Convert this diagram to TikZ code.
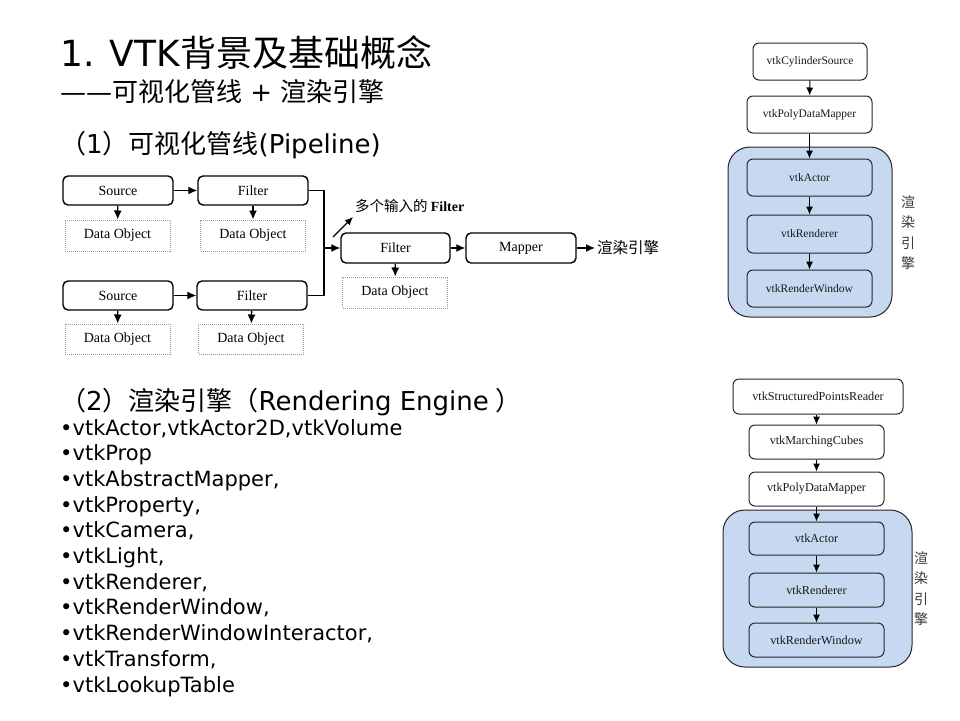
\documentclass[tikz,border=0pt]{standalone}
\usepackage{fontspec}
\setmainfont{DejaVu Sans}
\newfontfamily\cjk{Noto Sans CJK SC}
\newfontfamily\tms{Liberation Serif}
\usetikzlibrary{arrows.meta}
\definecolor{engblue}{HTML}{C6D9F1}
\definecolor{sidegray}{HTML}{3A3A3A}
\begin{document}
\begin{tikzpicture}[x=1pt,y=-1pt,
  pbox/.style={draw=black,line width=1.4pt,rounded corners=5pt,fill=white,inner sep=0pt,
     minimum width=110pt,minimum height=29pt,font=\tms\fontsize{14}{14}\selectfont},
  dbox/.style={draw=gray!80,line width=1pt,dash pattern=on 1pt off 1pt,inner sep=0pt,
     minimum width=105pt,minimum height=31pt,font=\tms\fontsize{14}{14}\selectfont},
  vbox/.style={draw=black!85,line width=1pt,rounded corners=6pt,inner sep=0pt,
     minimum height=37pt,font=\tms\fontsize{11.5}{11.5}\selectfont,text=black!90},
  wbox/.style={draw=black!85,line width=1pt,rounded corners=6pt,inner sep=0pt,
     minimum height=34pt,font=\tms\fontsize{12.2}{12.2}\selectfont,text=black!90},
  cont/.style={draw=black!85,line width=1pt,fill=engblue,rounded corners=22pt},
  arr/.style={-{Latex[length=9pt,width=8pt]},line width=1.3pt},
  varr/.style={-{Latex[length=8pt,width=7pt]},line width=1pt},
  ln/.style={line width=1.3pt},
  side/.style={font=\cjk\fontsize{14}{14}\selectfont,text=sidegray,inner sep=0pt}
]
\useasboundingbox (0,0) rectangle (960,720);
\fill[white] (0,0) rectangle (960,720);

% ---------- headings ----------
\node[anchor=base west,inner sep=0pt] (title) at (60,66)
  {\fontsize{36}{36}\selectfont 1. VTK{\cjk\fontsize{36}{36}\selectfont 背景及基础概念}};
\node[anchor=base west,inner sep=0pt] (subtitle) at (60,101)
  {\fontsize{26}{26}\selectfont ——{\cjk 可视化管线} + {\cjk 渲染引擎}};
\node[anchor=base west,inner sep=0pt] (h1) at (60,153)
  {\fontsize{26}{26}\selectfont {\cjk （}1{\cjk ）可视化管线}(Pipeline)};
\node[anchor=base west,inner sep=0pt] (h2) at (60,410)
  {\fontsize{26}{26}\selectfont {\cjk （}2{\cjk ）渲染引擎（}Rendering Engine\hspace{7pt}{\cjk ）}};

% ---------- list ----------
\foreach \t [count=\i from 0] in {vtkActor{,}vtkActor2D{,}vtkVolume,vtkProp,vtkAbstractMapper{,},
  vtkProperty{,},vtkCamera{,},vtkLight{,},vtkRenderer{,},vtkRenderWindow{,},
  vtkRenderWindowInteractor{,},vtkTransform{,},vtkLookupTable}
  \node[anchor=base west,inner sep=0pt,font=\fontsize{21}{21}\selectfont] (li\i) at (60,{435+25.7*\i}) {•\t};

% ---------- pipeline ----------
\node[pbox] (s1) at (118,190.5) {Source};
\node[pbox] (f1) at (253,190.5) {Filter};
\node[dbox] (d1) at (117.5,235.5) {Data Object};
\node[dbox] (d2) at (253,235.5) {Data Object};
\node[pbox] (s2) at (118,295.5) {Source};
\node[pbox] (f2) at (252,295.5) {Filter};
\node[dbox,minimum height=30pt] (d3) at (117.5,339) {Data Object};
\node[dbox,minimum height=30pt] (d4) at (251,339) {Data Object};
\node[pbox,minimum width=109pt,minimum height=30pt] (f3) at (395.5,248) {Filter};
\node[dbox] (d5) at (395,292.5) {Data Object};
\node[pbox,minimum height=30pt] (mp) at (521,248) {Mapper};
\node[anchor=west,inner sep=0pt,font=\cjk\fontsize{15.5}{15.5}\selectfont] (eng) at (597,248) {渲染引擎};
\node[anchor=west,inner sep=0pt] (multi) at (355,206)
  {{\cjk\fontsize{14.5}{14.5}\selectfont 多个输入的} {\tms\bfseries\fontsize{14}{14}\selectfont Filter}};
\coordinate (j) at (324,248);
\coordinate (ma) at (333,237);
\coordinate (mb) at (353,217);

\draw[arr] (s1) -- (f1);
\draw[arr] (s2) -- (f2);
\draw[arr] (s1) -- (d1);
\draw[arr] (f1) -- (d2);
\draw[arr] (s2) -- (d3);
\draw[arr] (f2) -- (d4);
\draw[ln] (f1.east) -| (j);
\draw[ln] (f2.east) -| (j);
\draw[arr] (j) -- (f3.west);
\draw[-{Latex[length=8pt,width=7pt]},line width=1.1pt] (ma) -- (mb);
\draw[arr] (f3) -- (mp);
\draw[arr] (f3) -- (d5);
\draw[arr] (mp.east) -- ([xshift=-2pt]eng.west);

% ---------- right top ----------
\draw[cont] (728,147) rectangle (892,317);
\node[vbox,fill=white,minimum width=114pt] (cs) at (810,61.5) {vtkCylinderSource};
\node[vbox,fill=white,minimum width=125pt] (pm1) at (809.5,114.5) {vtkPolyDataMapper};
\node[vbox,fill=engblue,minimum width=125pt] (ac1) at (809.5,177.5) {vtkActor};
\node[vbox,fill=engblue,minimum width=125pt,minimum height=38pt] (re1) at (809.5,234) {vtkRenderer};
\node[vbox,fill=engblue,minimum width=125pt] (rw1) at (809.5,288.5) {vtkRenderWindow};
\draw[varr] (cs) -- (pm1);
\draw[varr] (pm1) -- (ac1);
\draw[varr] (ac1) -- (re1);
\draw[varr] (re1) -- (rw1);
\node[side] (sa1) at (908,202) {渲};
\node[side] (sb1) at (908,222.5) {染};
\node[side] (sc1) at (908,243) {引};
\node[side] (sd1) at (908,263.5) {擎};

% ---------- right bottom ----------
\draw[cont] (723,510) rectangle (912,667);
\node[wbox,fill=white,minimum width=170pt,minimum height=35pt] (sp) at (818,396.5) {vtkStructuredPointsReader};
\node[wbox,fill=white,minimum width=135pt] (mc) at (816.5,442) {vtkMarchingCubes};
\node[wbox,fill=white,minimum width=135pt] (pm2) at (816.5,489) {vtkPolyDataMapper};
\node[wbox,fill=engblue,minimum width=135pt,minimum height=33pt] (ac2) at (816.5,538.5) {vtkActor};
\node[wbox,fill=engblue,minimum width=135pt] (re2) at (816.5,590) {vtkRenderer};
\node[wbox,fill=engblue,minimum width=135pt] (rw2) at (816.5,640) {vtkRenderWindow};
\draw[varr] (sp.south -| mc) -- (mc);
\draw[varr] (mc) -- (pm2);
\draw[varr] (pm2) -- (ac2);
\draw[varr] (ac2) -- (re2);
\draw[varr] (re2) -- (rw2);
\node[side] (sa2) at (921,558) {渲};
\node[side] (sb2) at (921,578.5) {染};
\node[side] (sc2) at (921,599) {引};
\node[side] (sd2) at (921,619.5) {擎};
\end{tikzpicture}
\end{document}
